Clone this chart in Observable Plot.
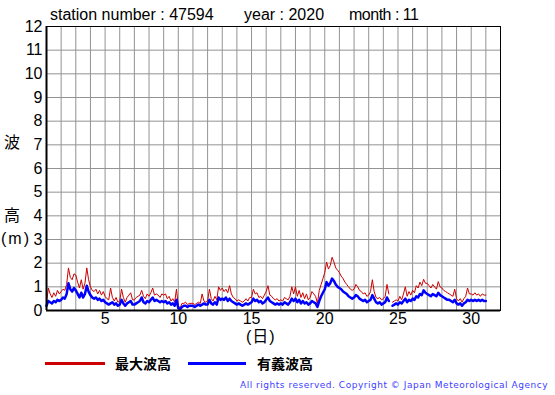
<!DOCTYPE html>
<html>
<head>
<meta charset="utf-8">
<script src="https://cdn.jsdelivr.net/npm/d3@7"></script>
<script src="https://cdn.jsdelivr.net/npm/@observablehq/plot@0.6"></script>
<style>
  html, body { margin: 0; padding: 0; background: #fff; }
  #wrap { position: relative; width: 555px; height: 395px; overflow: hidden; background: #fff; }
  #chart { position: absolute; left: 0; top: 0; }
  .t { position: absolute; white-space: nowrap; line-height: 16px; }
  .lat { font-family: "Liberation Sans", Arial, sans-serif; font-size: 16px; color: #000; }
  .cjk { font-family: "Noto Sans CJK JP", sans-serif; font-size: 16px; color: #000; }
  .mix { font-family: "Liberation Sans", "Noto Sans CJK JP", sans-serif; font-size: 16px; color: #000; }
  .leg { font-family: "Noto Sans CJK JP", sans-serif; font-size: 14px; font-weight: bold; color: #000; line-height: 14px; }
  .sw { position: absolute; height: 3px; }
  #copy { font-family: "DejaVu Sans", Verdana, sans-serif; font-size: 9px; color: #4040ff; line-height: 10px; }
</style>
</head>
<body>
<div id="wrap">
  <div id="chart"></div>
  <div class="t lat" style="left:50px; top:7px;">station number : 47594</div>
  <div class="t lat" style="left:244px; top:7px;">year : 2020</div>
  <div class="t lat" style="left:349px; top:7px; letter-spacing:-0.5px;">month : 11</div>
  <div class="t cjk" style="left:4px; top:133px;">波</div>
  <div class="t cjk" style="left:4px; top:206px;">高</div>
  <div class="t mix" style="left:1px; top:231px; letter-spacing:2px;">(m)</div>
  <div class="t mix" style="left:246px; top:329px; letter-spacing:1px;">(日)</div>
  <div class="sw" style="left:45px; top:362px; width:60px; background:#cc0000;"></div>
  <div class="t leg" style="left:115px; top:356px;">最大波高</div>
  <div class="sw" style="left:188px; top:362px; width:58px; background:#0000ff;"></div>
  <div class="t leg" style="left:257px; top:356px;">有義波高</div>
  <div class="t" id="copy" style="left:240px; top:380px;">All rights reserved. Copyright © Japan Meteorological Agency</div>
</div>
<script>
// ---- data (3-hourly, starting 1 Nov 00:00; 8 values per day) ----
const startDay = 1;
const stepDays = 1 / 8;

// significant wave height 有義波高 (m)
const hs = [
  0.20,0.40,0.35,0.30,0.40,0.35,0.45,0.40,
  0.45,0.55,0.50,0.70,1.15,0.90,0.80,0.95,
  0.85,0.70,0.55,0.75,0.55,0.70,1.05,0.80,
  0.65,0.55,0.50,0.55,0.45,0.50,0.40,0.45,
  0.35,0.30,0.25,0.30,0.35,0.25,0.30,0.20,
  0.25,0.45,0.30,0.20,0.30,0.35,0.40,0.25,
  0.25,0.30,0.35,0.40,0.55,0.35,0.30,0.40,
  0.35,0.45,0.55,0.40,0.45,0.40,0.35,0.40,
  0.35,0.40,0.30,0.35,0.25,0.30,0.20,0.45,
  0.10,0.05,0.15,0.20,0.20,0.15,0.20,0.20,
  0.20,0.15,0.20,0.25,0.20,0.25,0.30,0.25,
  0.25,0.45,0.30,0.25,0.35,0.25,0.55,0.45,
  0.50,0.45,0.55,0.40,0.50,0.40,0.35,0.30,
  0.25,0.30,0.25,0.20,0.25,0.30,0.25,0.30,
  0.35,0.50,0.40,0.45,0.35,0.40,0.30,0.35,
  0.45,0.55,0.40,0.35,0.30,0.25,0.30,0.25,
  0.30,0.25,0.35,0.30,0.25,0.35,0.50,0.40,
  0.50,0.35,0.45,0.30,0.40,0.30,0.35,0.25,
  0.30,0.40,0.35,0.30,0.15,0.40,0.60,0.75,
  0.90,1.20,1.05,1.15,1.35,1.25,1.10,1.00,
  0.95,0.90,0.80,0.75,0.70,0.60,0.55,0.50,
  0.55,0.65,0.60,0.50,0.45,0.40,0.45,0.35,
  0.40,0.45,0.65,0.50,0.35,0.30,0.35,0.25,
  0.30,0.35,0.55,0.40,null,0.20,0.25,0.30,
  0.25,0.35,0.30,0.40,0.50,0.35,0.45,0.40,
  0.50,0.45,0.60,0.55,0.70,0.65,0.85,0.75,
  0.70,0.65,0.60,0.70,0.65,0.60,0.75,0.65,
  0.60,0.55,0.50,0.45,0.45,0.40,0.35,0.45,
  0.30,0.25,0.30,0.20,0.30,0.35,0.45,0.40,
  0.45,0.40,0.45,0.40,0.45,0.40,0.45,0.40,
  0.40
];

// maximum wave height 最大波高 (m)
const hmax = [
  0.30,0.95,0.70,0.55,0.75,0.60,0.85,0.70,
  0.80,0.90,0.85,1.10,1.80,1.40,1.30,1.55,
  1.50,1.20,0.95,1.30,0.90,1.15,1.80,1.30,
  1.00,0.85,0.80,0.90,0.70,0.85,0.65,0.80,
  0.60,0.50,0.45,0.95,0.55,0.40,0.55,0.35,
  0.40,0.90,0.55,0.35,0.55,0.65,0.75,0.45,
  0.45,0.55,0.60,0.65,0.85,0.60,0.50,0.70,
  0.60,0.75,0.95,0.65,0.70,0.65,0.55,0.70,
  0.65,0.70,0.50,0.60,0.40,0.50,0.35,0.90,
  0.20,0.10,0.30,0.30,0.35,0.25,0.30,0.30,
  0.30,0.25,0.30,0.35,0.30,0.70,0.40,0.35,
  0.40,0.90,0.50,0.40,0.60,0.45,1.00,0.85,
  0.95,0.80,0.90,0.75,1.05,0.70,0.55,0.50,
  0.40,0.45,0.40,0.35,0.40,0.50,0.40,0.55,
  0.55,0.90,0.70,0.75,0.55,0.60,0.50,0.65,
  0.80,1.05,0.65,0.60,0.50,0.45,0.50,0.40,
  0.45,0.40,0.55,0.50,0.45,0.60,1.00,0.70,
  1.00,0.60,0.85,0.55,0.75,0.50,0.70,0.45,
  0.55,0.80,0.70,0.60,0.30,0.85,1.10,1.35,
  1.60,2.05,1.75,1.90,2.25,2.05,1.80,1.70,
  1.60,1.45,1.35,1.20,1.10,1.00,0.90,0.85,
  0.90,1.10,1.00,0.85,0.80,0.70,0.75,0.60,
  0.65,0.80,1.30,0.80,0.55,0.50,0.55,0.45,
  0.50,0.60,1.10,0.70,null,0.35,0.40,0.45,
  0.40,0.60,0.45,0.70,1.00,0.60,0.80,0.65,
  0.85,0.75,1.05,0.95,1.20,1.05,1.32,1.15,
  1.15,1.05,0.95,1.10,1.00,0.90,1.22,1.00,
  0.95,0.85,0.80,0.75,0.70,0.65,0.60,0.90,
  0.50,0.40,0.50,0.35,0.50,0.60,0.95,0.70,
  0.70,0.65,0.75,0.65,0.70,0.60,0.70,0.65,
  0.65
];

const xTicks = [5, 10, 15, 20, 25, 30];
const yTicks = [0, 1, 2, 3, 4, 5, 6, 7, 8, 9, 10, 11, 12];
const dayGrid = [1,2,3,4,5,6,7,8,9,10,11,12,13,14,15,16,17,18,19,20,21,22,23,24,25,26,27,28,29,30,31,32];

const records = hs.map((v, i) => ({ t: startDay + i * stepDays, hs: v, hmax: hmax[i] }));

const chart = Plot.plot({
  width: 555,
  height: 345,
  marginLeft: 46,
  marginRight: 55,
  marginTop: 26,
  marginBottom: 35,
  style: { fontFamily: "'Liberation Sans', Arial, sans-serif", fontSize: "16px", background: "white", color: "black", overflow: "visible" },
  x: { domain: [1, 32], ticks: xTicks, tickSize: 0, tickPadding: 2, label: null, tickFormat: d => String(d) },
  y: { domain: [0, 12], ticks: yTicks, tickSize: 0, tickPadding: 4, label: null, tickFormat: d => String(d) },
  marks: [
    Plot.ruleX(dayGrid, { stroke: "#939393", strokeWidth: 1 }),
    Plot.ruleY(yTicks, { stroke: "#939393", strokeWidth: 1 }),
    Plot.line(records, { x: "t", y: "hmax", stroke: "#cc0000", strokeWidth: 1 }),
    Plot.line(records, { x: "t", y: "hs", stroke: "#0000ff", strokeWidth: 2.5 }),
    Plot.frame({ stroke: "black", strokeWidth: 1 }),
    Plot.ruleX([1], { stroke: "black", strokeWidth: 2 }),
    Plot.ruleY([0], { stroke: "black", strokeWidth: 2 })
  ]
});
document.getElementById("chart").appendChild(chart);

// stretch copyright text to its span in the reference
const copy = document.getElementById("copy");
const target = 308;
const w = copy.getBoundingClientRect().width;
const n = copy.textContent.length;
copy.style.letterSpacing = ((target - w) / n) + "px";
</script>
</body>
</html>
